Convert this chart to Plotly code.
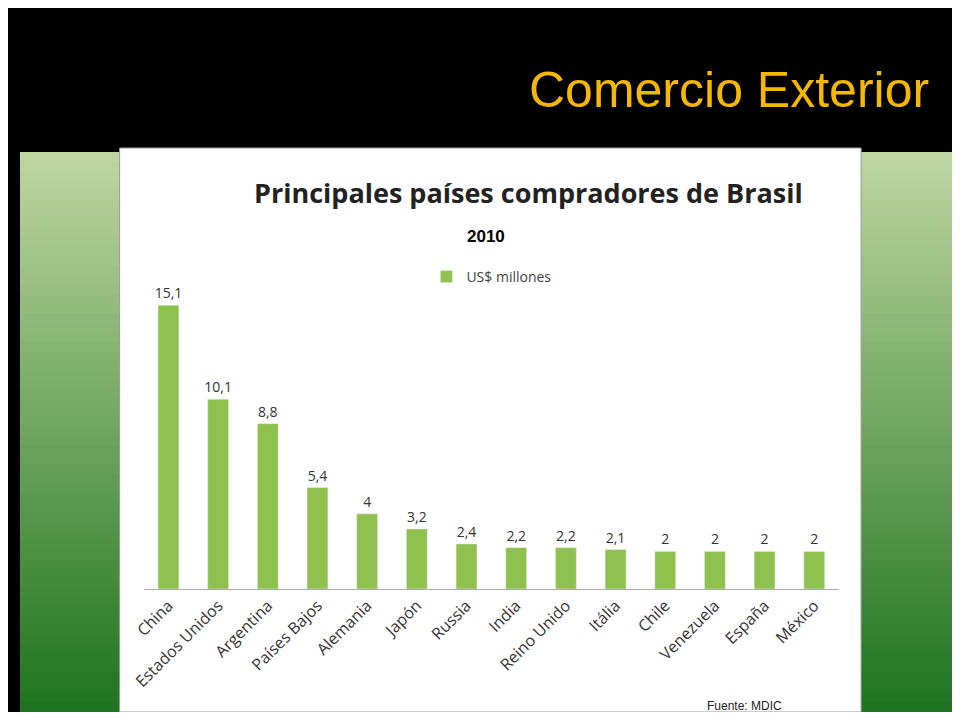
import plotly.graph_objects as go

countries = ["China", "Estados Unidos", "Argentina", "Países Bajos", "Alemania", "Japón", "Russia",
             "India", "Reino Unido", "Itália", "Chile", "Venezuela", "España", "México"]
values = [15.1, 10.1, 8.8, 5.4, 4, 3.2, 2.4, 2.2, 2.2, 2.1, 2, 2, 2, 2]
labels = [("%g" % v).replace(".", ",") for v in values]

W, H = 944, 704
OFF = 8
def px(x): return ((x - 10.4) / 0.988 - OFF) / W
def py(y): return 1 - (y - OFF) / H

shapes = []
n = 60
top, bot = (190, 214, 160), (30, 115, 30)
for i in range(n):
    t = i / (n - 1)
    c = tuple(int(top[k] + (bot[k] - top[k]) * t) for k in range(3))
    y0 = 152 + (720 - 152) * i / n
    y1 = 152 + (720 - 152) * (i + 1) / n + 1
    shapes.append(dict(type="rect", xref="paper", yref="paper", x0=0, x1=1,
                       y0=max(py(y1), 0), y1=py(y0), fillcolor="rgb(%d,%d,%d)" % c, line_width=0, layer="below"))
shapes.append(dict(type="rect", xref="paper", yref="paper", x0=0, x1=1, y0=py(150), y1=1,
                   fillcolor="black", line_width=0, layer="below"))
shapes.append(dict(type="rect", xref="paper", yref="paper", x0=px(118), x1=px(860), y0=0, y1=py(148),
                   fillcolor="white", line=dict(color="#999", width=1), layer="below"))

fig = go.Figure(go.Bar(
    x=countries, y=values, text=labels, textposition="outside", constraintext="none",
    textfont=dict(family="Open Sans", size=14, color="#333"),
    marker=dict(color="#8fc14e"), width=0.42, name="US$ millones", cliponaxis=False))

def ann(text, x, y, size, family, color, xanchor="center"):
    return dict(text=text, x=px(x), y=py(y), xref="paper", yref="paper", showarrow=False,
                xanchor=xanchor, yanchor="middle", font=dict(family=family, size=size, color=color))

fig.update_layout(
    width=W, height=H, margin=dict(l=0, r=0, t=0, b=0),
    paper_bgcolor="black", plot_bgcolor="rgba(0,0,0,0)", shapes=shapes,
    xaxis=dict(domain=[px(142), px(838)], tickangle=-45, showline=True, linecolor="#aaa",
               ticks="", tickfont=dict(family="Open Sans", size=16, color="#333")),
    yaxis=dict(domain=[py(589), py(279)], range=[0, 16.5], visible=False),
    showlegend=True,
    legend=dict(x=px(425), y=py(277), xanchor="left", yanchor="middle", bgcolor="rgba(0,0,0,0)",
                font=dict(family="Open Sans", size=14, color="#444")),
    annotations=[
        ann("Comercio Exterior", 930, 90, 50, "Liberation Sans", "#f5b800", "right"),
        ann("<b>Principales países compradores de Brasil</b>", 527, 193, 27, "Open Sans", "#222"),
        ann("<b>2010</b>", 485, 237, 17, "Liberation Sans", "black"),
        ann("Fuente: MDIC", 743, 706, 12, "Liberation Sans", "#222"),
    ])

fig.write_html("out.html")
